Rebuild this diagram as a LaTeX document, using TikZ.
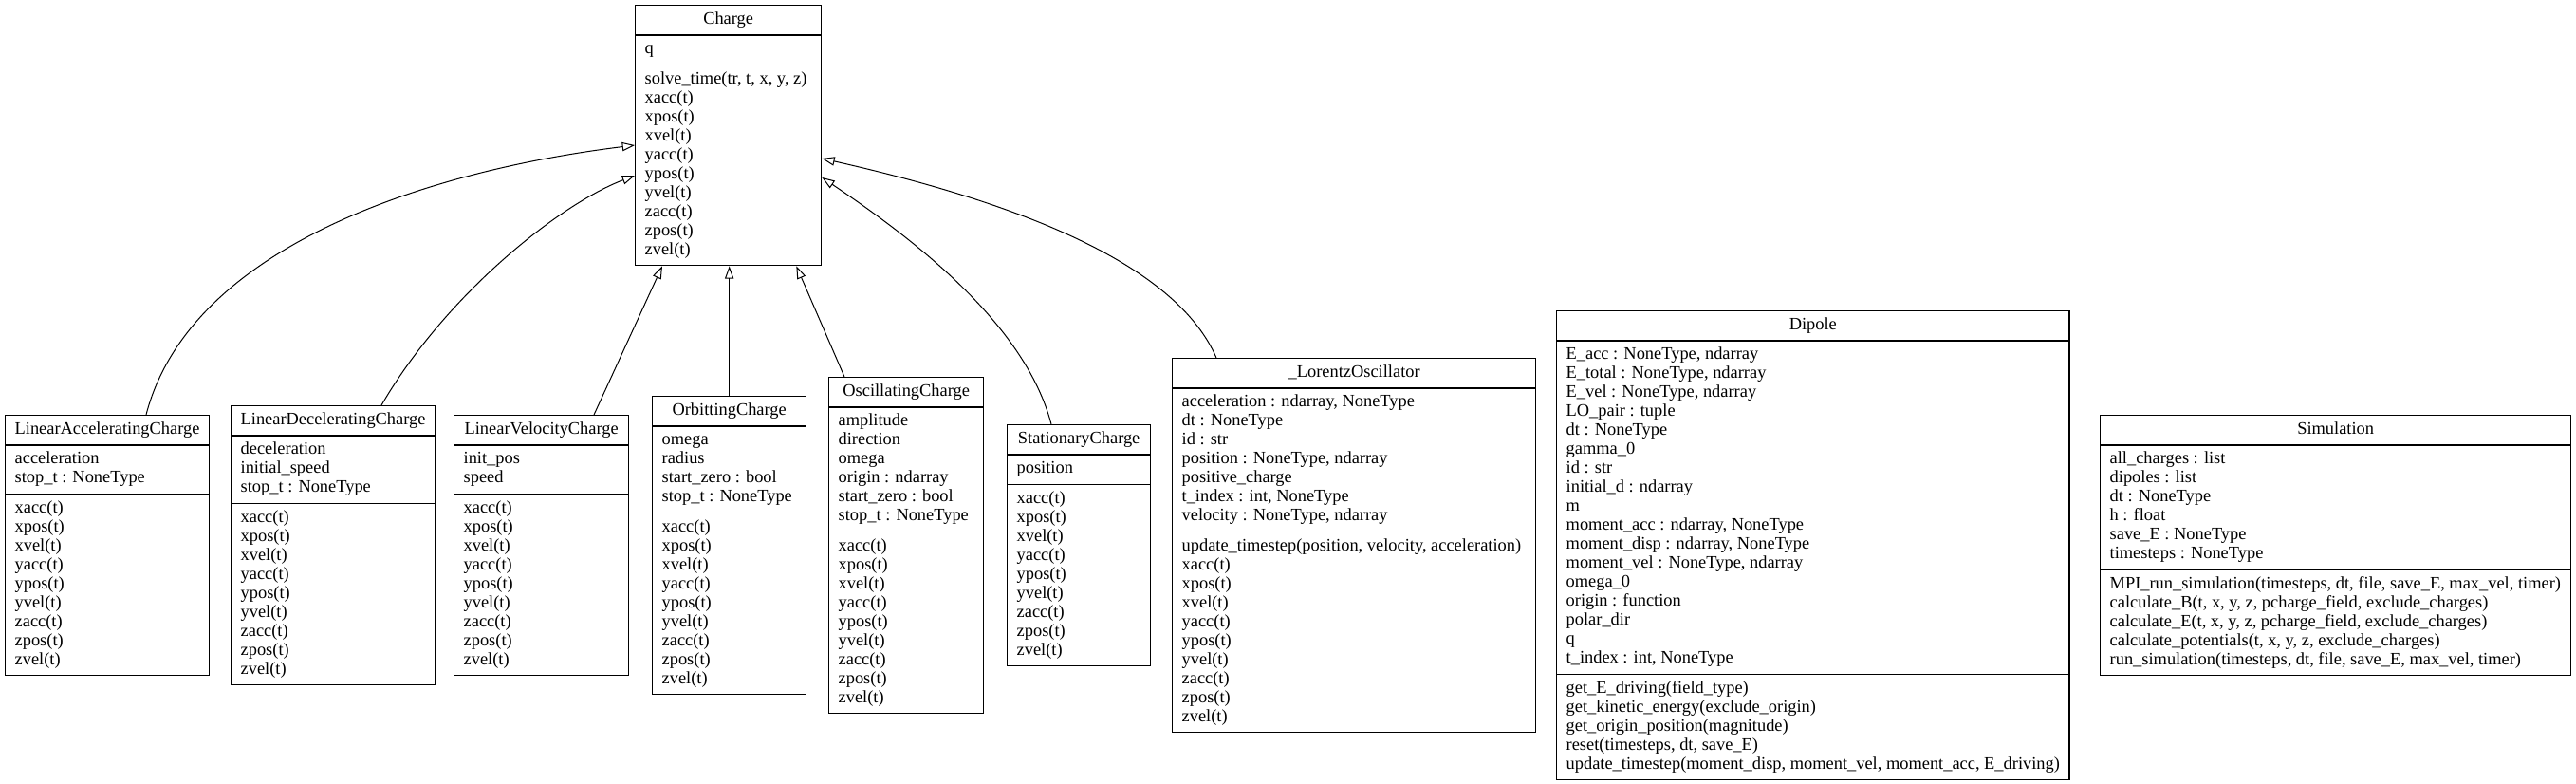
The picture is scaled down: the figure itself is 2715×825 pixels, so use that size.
\documentclass[tikz,border=0pt]{standalone}
\usepackage{fontspec}
\setmainfont{Liberation Serif}
\usetikzlibrary{shapes.multipart, arrows.meta, calc}

\newcommand{\kinmethods}{xacc(t)\\xpos(t)\\xvel(t)\\yacc(t)\\ypos(t)\\yvel(t)\\zacc(t)\\zpos(t)\\zvel(t)\strut}

\begin{document}
\begin{tikzpicture}[
    x=0.75pt, y=-0.75pt,
    umlclass/.style={rectangle split, rectangle split parts=3, draw, line width=1pt, fill=white,
        align=left, rectangle split part align={center, left, left},
        inner xsep=7.5pt, inner ysep=3.75pt, anchor=north west,
        font=\fontsize{13.8}{15}\selectfont},
    inherit/.style={-{Triangle[open, length=10pt, width=7pt]}, line width=0.75pt}
]
    \useasboundingbox (0,0) rectangle (2715,825);

    % base class
    \node[umlclass, minimum width=147pt] (charge) at (669,5) {\strut Charge
        \nodepart{second}\strut q\strut
        \nodepart{third}\strut solve\_time(tr, t, x, y, z)\\\kinmethods};

    % subclasses
    \node[umlclass, minimum width=159.75pt] (lac) at (5,437) {\strut LinearAcceleratingCharge
        \nodepart{second}\strut acceleration\\stop\_t : NoneType\strut
        \nodepart{third}\strut\kinmethods};
    \node[umlclass, minimum width=159pt] (ldc) at (243,427) {\strut LinearDeceleratingCharge
        \nodepart{second}\strut deceleration\\initial\_speed\\stop\_t : NoneType\strut
        \nodepart{third}\strut\kinmethods};
    \node[umlclass, minimum width=138pt] (lvc) at (478,437) {\strut LinearVelocityCharge
        \nodepart{second}\strut init\_pos\\speed\strut
        \nodepart{third}\strut\kinmethods};
    \node[umlclass, minimum width=121.5pt] (orc) at (687,417) {\strut OrbittingCharge
        \nodepart{second}\strut omega\\radius\\start\_zero : bool\\stop\_t : NoneType\strut
        \nodepart{third}\strut\kinmethods};
    \node[umlclass, minimum width=122.25pt] (osc) at (873,397) {\strut OscillatingCharge
        \nodepart{second}\strut amplitude\\direction\\omega\\origin : ndarray\\start\_zero : bool\\stop\_t : NoneType\strut
        \nodepart{third}\strut\kinmethods};
    \node[umlclass, minimum width=113.25pt] (stc) at (1061,447) {\strut StationaryCharge
        \nodepart{second}\strut position\strut
        \nodepart{third}\strut\kinmethods};
    \node[umlclass, minimum width=287.25pt] (lor) at (1235,377) {\strut \_LorentzOscillator
        \nodepart{second}\strut acceleration : ndarray, NoneType\\dt : NoneType\\id : str\\position : NoneType, ndarray\\positive\_charge\\t\_index : int, NoneType\\velocity : NoneType, ndarray\strut
        \nodepart{third}\strut update\_timestep(position, velocity, acceleration)\\\kinmethods};

    % standalone classes
    \node[umlclass, minimum width=369.75pt] (dipole) at (1640,327) {\strut Dipole
        \nodepart{second}\strut E\_acc : NoneType, ndarray\\E\_total : NoneType, ndarray\\E\_vel : NoneType, ndarray\\LO\_pair : tuple\\dt : NoneType\\gamma\_0\\id : str\\initial\_d : ndarray\\m\\moment\_acc : ndarray, NoneType\\moment\_disp : ndarray, NoneType\\moment\_vel : NoneType, ndarray\\omega\_0\\origin : function\\polar\_dir\\q\\t\_index : int, NoneType\strut
        \nodepart{third}\strut get\_E\_driving(field\_type)\\get\_kinetic\_energy(exclude\_origin)\\get\_origin\_position(magnitude)\\reset(timesteps, dt, save\_E)\\update\_timestep(moment\_disp, moment\_vel, moment\_acc, E\_driving)\strut};
    \node[umlclass, minimum width=372pt] (sim) at (2213,437) {\strut Simulation
        \nodepart{second}\strut all\_charges : list\\dipoles : list\\dt : NoneType\\h : float\\save\_E : NoneType\\timesteps : NoneType\strut
        \nodepart{third}\strut MPI\_run\_simulation(timesteps, dt, file, save\_E, max\_vel, timer)\\calculate\_B(t, x, y, z, pcharge\_field, exclude\_charges)\\calculate\_E(t, x, y, z, pcharge\_field, exclude\_charges)\\calculate\_potentials(t, x, y, z, exclude\_charges)\\run\_simulation(timesteps, dt, file, save\_E, max\_vel, timer)\strut};

    % inheritance
    \draw[inherit] ($(lac.north west)+(149,0)$) .. controls (200,260) and (450,180) .. ($(charge.north west)+(0,148)$);
    \draw[inherit] ($(ldc.north west)+(159,0)$) .. controls (470,310) and (590,215) .. ($(charge.north west)+(0,180)$);
    \draw[inherit] ($(lvc.north west)+(148,0)$) -- ($(charge.south west)+(29,0)$);
    \draw[inherit] (orc.north) -- (orc.north |- charge.south);
    \draw[inherit] ($(osc.north west)+(17,0)$) -- ($(charge.south east)+(-27,0)$);
    \draw[inherit] ($(stc.north west)+(47,0)$) .. controls (1080,340) and (960,250) .. ($(charge.north east)+(0,182)$);
    \draw[inherit] ($(lor.north west)+(47,0)$) .. controls (1240,280) and (1080,215) .. ($(charge.north east)+(0,162)$);
\end{tikzpicture}
\end{document}
